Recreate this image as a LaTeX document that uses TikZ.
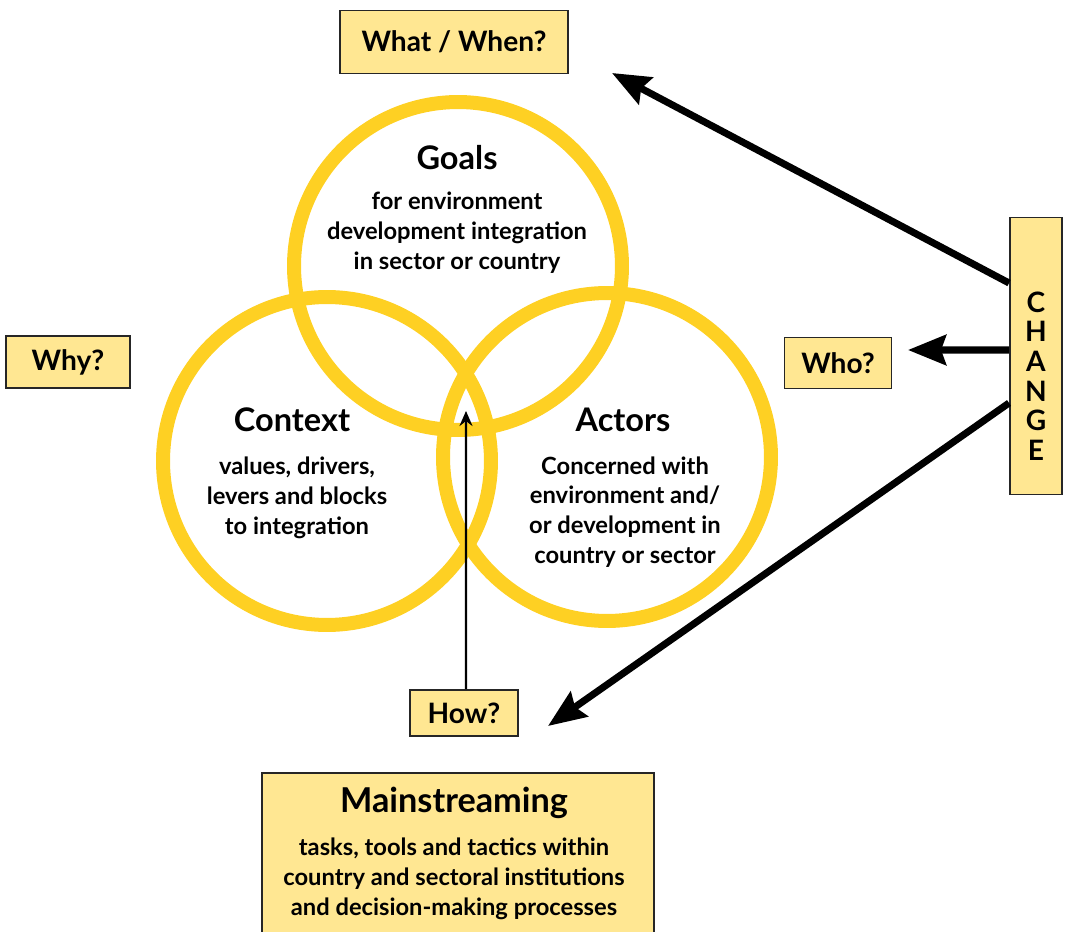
\documentclass[tikz,border=0pt]{standalone}
\usepackage{fontspec}
\setmainfont{Lato}
\usepackage{tikz}
\usetikzlibrary{positioning, arrows.meta, shapes}
\definecolor{ringyellow}{RGB}{254,208,35}
\definecolor{boxyellow}{RGB}{255,231,146}
\tikzstyle{ring} = [circle, draw=ringyellow, line width=0.28cm, minimum size=6.56cm, inner sep=0pt]
\tikzstyle{heading} = [font=\fontsize{18.5}{22}\selectfont\bfseries, inner sep=0pt]
\tikzstyle{blurb} = [align=center, font=\fontsize{13.5}{17}\selectfont\bfseries, inner sep=0pt]
\tikzstyle{question} = [rectangle, draw=black!85, line width=1.1pt, fill=boxyellow, font=\fontsize{16}{19}\selectfont\bfseries]
\tikzstyle{bigarrow} = [line width=4pt, -{Stealth[length=0.76cm, width=0.6cm, inset=0.1cm]}]
\tikzstyle{thinarrow} = [line width=1.4pt, -{Stealth[length=0.3cm, width=0.26cm]}]

\begin{document}
\begin{tikzpicture}[x=0.02cm, y=-0.02cm, node distance=1cm]
        \useasboundingbox (0,0) rectangle (1066,932);
        % the three rings
        \node (goalsring) [ring] at (458,266) {};
        \node (contextring) [ring] at (327,461) {};
        \node (actorsring) [ring] at (607,457) {};

        \node (goals) [heading] at (457,158) {Goals};
        \node (goalstext) [blurb] at (457,233) {for environment\\development integration\\in sector or country};
        \node (context) [heading] at (292,420) {Context};
        \node (contexttext) [blurb] at (297,498) {values, drivers,\\levers and blocks\\to integration};
        \node (actors) [heading] at (623,420) {Actors};
        \node (actorstext) [blurb] at (625,512) {Concerned with\\environment and/\\or development in\\country or sector};

        % question boxes
        \node (whatwhen) [question, minimum width=4.56cm, minimum height=1.26cm] at (454,42) {What / When?};
        \node (why) [question, minimum width=2.48cm, minimum height=1.04cm] at (68,362) {Why?};
        \node (who) [question, minimum width=2.14cm, minimum height=1.02cm] at (838,363) {Who?};
        \node (how) [question, minimum width=2.16cm, minimum height=0.92cm] at (464,713) {How?};
        \node (change) [question, minimum width=1.04cm, minimum height=5.54cm] at (1036,356) {};
        \node (changetext) [align=center, inner sep=0pt, font=\fontsize{16}{16.8}\selectfont\bfseries] at (1036,376) {C\\H\\A\\N\\G\\E};

        \node (mainstream) [question, anchor=north, minimum width=7.84cm, minimum height=3.6cm] at (458,772) {};
        \node (mainstitle) [heading, font=\fontsize{19.5}{23}\selectfont\bfseries] at (454,803) {Mainstreaming};
        \node (mainstext) [blurb] at (454,879) {tasks, tools and tactics within\\country and sectoral institutions\\and decision-making processes};

        \coordinate (whattip) at (612,73);
        \coordinate (whotip) at (908,350);
        \coordinate (mainstip) at (548,726);
        \coordinate (howtip) at (466,411);

        \draw [bigarrow] ([yshift=1.46cm]change.west) -- (whattip);
        \draw [bigarrow] ([yshift=0.12cm]change.west) -- (whotip);
        \draw [bigarrow] ([yshift=-0.94cm]change.west) -- (mainstip);
        \draw [thinarrow] ([xshift=0.04cm]how.north) -- (howtip);

        \end{tikzpicture}
\end{document}
